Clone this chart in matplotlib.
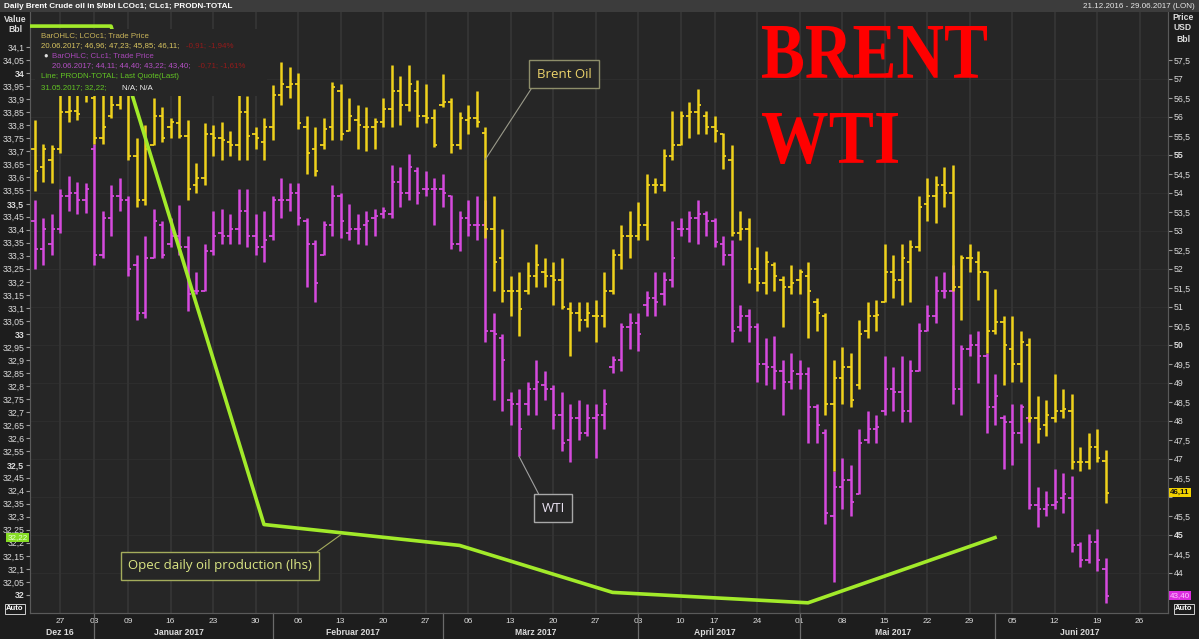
import numpy as np
import pandas as pd
import matplotlib
matplotlib.use("Agg")
import matplotlib.pyplot as plt
from matplotlib.patches import Rectangle, PathPatch
from matplotlib.textpath import TextPath
from matplotlib.font_manager import FontProperties
from matplotlib.transforms import Affine2D

# trading calendar used by the chart (bars are evenly spaced per trading day)
holidays = ["2016-12-26", "2017-01-02", "2017-04-14"]
first_bar = "2016-12-21"

# Brent (LCOc1) daily OHLC, 21.12.2016 .. 20.06.2017
brent_open = [
    55.16, 54.68, 54.87, 55.16, 56.12, 56.16, 56.59, 56.50, 55.45, 56.02,
    56.31, 56.59, 54.97, 53.82, 55.26, 56.02, 55.73, 55.83, 55.49, 54.20,
    54.39, 55.54, 55.45, 55.35, 55.26, 56.12, 55.54, 55.35, 55.73, 56.59,
    56.79, 56.88, 55.73, 55.16, 55.26, 55.73, 56.69, 55.64, 55.92, 55.73,
    55.73, 55.88, 56.21, 56.69, 56.31, 56.69, 56.02, 55.97, 56.31, 56.40,
    55.26, 55.92, 55.97, 55.59, 53.05, 52.29, 51.43, 51.43, 51.43, 51.81,
    51.91, 51.81, 51.71, 50.95, 50.85, 50.66, 50.76, 50.76, 51.43, 52.38,
    52.86, 52.86, 53.15, 54.20, 54.20, 54.97, 55.26, 56.02, 56.12, 56.02,
    55.73, 55.54, 54.87, 52.96, 53.05, 52.00, 51.62, 52.10, 51.71, 51.52,
    51.71, 51.81, 51.14, 50.76, 48.46, 49.13, 49.42, 48.94, 50.37, 50.76,
    51.14, 51.91, 51.71, 52.19, 52.58, 53.72, 53.91, 54.20, 54.01, 51.52,
    52.29, 52.19, 51.91, 50.37, 50.61, 49.90, 49.51, 49.99, 48.08, 47.89,
    48.08, 48.27, 48.27, 46.93, 46.93, 47.31, 46.96]
brent_high = [
    55.92, 55.30, 55.26, 56.69, 56.64, 56.64, 56.69, 56.69, 56.69, 56.59,
    56.69, 56.69, 55.45, 55.78, 56.50, 56.26, 55.97, 56.98, 55.92, 54.78,
    55.83, 55.78, 55.88, 55.64, 56.59, 56.55, 55.73, 55.97, 56.83, 57.46,
    57.31, 57.17, 56.02, 55.73, 55.97, 56.93, 56.88, 56.50, 56.31, 56.26,
    55.97, 56.50, 57.36, 57.07, 57.36, 56.98, 56.88, 56.21, 57.12, 56.50,
    56.12, 56.31, 56.69, 55.73, 53.91, 53.05, 51.81, 51.91, 52.19, 52.67,
    52.29, 52.19, 52.29, 51.14, 51.14, 51.14, 51.19, 51.91, 52.53, 53.15,
    53.53, 53.77, 54.49, 54.39, 55.16, 56.16, 56.16, 56.40, 56.74, 56.16,
    56.02, 55.59, 55.26, 53.53, 53.34, 52.58, 52.48, 52.19, 51.81, 52.10,
    52.00, 52.19, 51.24, 50.85, 49.61, 49.94, 49.80, 50.66, 51.14, 51.19,
    52.67, 52.38, 52.67, 52.77, 53.91, 54.39, 54.44, 54.68, 54.73, 52.38,
    52.67, 52.48, 51.95, 51.48, 50.76, 50.76, 50.37, 50.18, 48.65, 48.56,
    49.23, 48.84, 48.70, 47.31, 47.69, 47.79, 47.23]
brent_low = [
    54.06, 54.30, 54.25, 55.06, 55.88, 55.92, 56.40, 55.30, 55.30, 55.97,
    56.21, 54.87, 53.63, 53.68, 55.26, 55.35, 55.45, 55.45, 53.82, 54.01,
    54.20, 54.97, 54.87, 54.97, 54.87, 54.87, 55.16, 54.87, 55.40, 56.31,
    56.50, 55.69, 54.49, 54.44, 55.16, 55.40, 55.40, 55.64, 55.16, 55.11,
    55.16, 55.73, 55.73, 55.78, 56.16, 55.73, 55.83, 55.21, 56.26, 55.06,
    55.16, 55.54, 55.73, 52.81, 51.43, 51.14, 50.76, 50.23, 51.33, 51.52,
    51.52, 51.04, 50.95, 49.70, 50.37, 50.47, 50.09, 50.47, 51.33, 52.00,
    52.29, 52.77, 52.77, 54.01, 54.06, 54.87, 55.26, 55.45, 55.54, 55.54,
    55.35, 54.63, 52.86, 52.77, 51.62, 51.43, 51.33, 51.43, 50.47, 51.33,
    51.33, 50.18, 50.37, 48.17, 46.69, 48.46, 48.36, 48.84, 50.18, 50.37,
    51.14, 51.24, 51.04, 51.14, 52.48, 53.25, 53.20, 53.63, 51.43, 50.66,
    51.91, 51.19, 49.80, 50.28, 48.94, 49.03, 49.03, 47.98, 47.41, 47.60,
    47.98, 48.08, 46.74, 46.69, 46.74, 46.93, 45.85]
brent_close = [
    54.59, 55.16, 55.16, 56.12, 56.16, 56.07, 56.59, 55.45, 55.73, 56.31,
    56.59, 54.97, 53.82, 55.16, 56.02, 55.45, 55.88, 55.49, 54.11, 54.39,
    55.54, 55.45, 55.40, 55.26, 56.12, 55.49, 55.45, 55.73, 56.59, 56.88,
    56.88, 55.83, 55.06, 54.59, 55.69, 56.79, 55.54, 56.02, 55.78, 55.73,
    55.88, 56.21, 56.69, 56.31, 56.88, 56.02, 55.97, 55.26, 56.40, 55.26,
    55.97, 55.97, 55.88, 53.05, 52.19, 51.43, 51.43, 50.95, 51.81, 52.10,
    51.81, 51.71, 51.00, 50.85, 50.66, 50.85, 50.76, 51.43, 52.38, 52.86,
    52.86, 53.15, 54.20, 54.20, 54.97, 55.26, 56.02, 56.12, 56.31, 55.73,
    55.64, 54.97, 52.96, 53.05, 52.00, 51.62, 52.19, 51.81, 51.52, 51.62,
    51.91, 51.43, 50.85, 48.46, 49.13, 49.42, 48.56, 50.28, 50.76, 50.80,
    51.91, 51.71, 52.29, 52.58, 53.63, 53.91, 54.20, 54.01, 51.52, 52.29,
    52.29, 51.91, 50.37, 50.61, 49.99, 49.51, 50.09, 48.08, 47.79, 48.17,
    48.27, 48.32, 46.93, 46.93, 47.31, 47.03, 46.11]

# WTI (CLc1) daily OHLC, same days
wti_open = [
    53.25, 52.53, 52.67, 53.05, 53.91, 54.01, 53.82, 55.16, 52.38, 53.34,
    53.91, 53.82, 52.10, 50.85, 52.29, 53.15, 52.67, 52.86, 52.58, 51.43,
    51.43, 52.48, 52.96, 52.86, 53.05, 53.53, 52.86, 52.58, 52.86, 53.82,
    53.82, 54.01, 53.25, 52.67, 52.38, 53.15, 53.91, 52.96, 53.05, 53.15,
    53.34, 53.44, 53.44, 54.30, 54.01, 54.59, 54.11, 54.11, 54.11, 53.91,
    52.67, 53.34, 53.15, 53.15, 50.37, 50.18, 48.56, 48.46, 48.46, 48.84,
    48.94, 48.84, 48.17, 47.50, 48.08, 47.69, 48.08, 48.17, 49.42, 49.61,
    50.47, 50.57, 51.04, 51.24, 51.33, 51.71, 53.05, 53.05, 53.34, 53.44,
    53.25, 52.67, 52.38, 50.47, 50.76, 50.47, 49.51, 49.42, 49.32, 49.03,
    49.23, 49.23, 48.36, 47.69, 45.49, 46.26, 46.45, 46.07, 47.50, 47.79,
    48.27, 48.84, 48.75, 48.27, 49.32, 50.37, 50.76, 51.43, 51.43, 48.84,
    49.90, 49.99, 49.70, 48.36, 48.08, 47.98, 47.69, 48.08, 45.78, 45.69,
    45.78, 45.97, 45.97, 44.73, 44.35, 44.82, 44.11]
wti_high = [
    53.82, 53.34, 53.44, 54.11, 54.44, 54.30, 54.25, 55.30, 53.53, 54.20,
    54.39, 53.91, 52.38, 52.86, 53.58, 53.25, 53.34, 53.68, 52.86, 51.91,
    52.67, 53.53, 53.58, 53.44, 54.11, 54.11, 53.44, 53.53, 53.91, 54.39,
    54.25, 54.25, 53.34, 52.77, 53.25, 54.20, 54.01, 53.72, 53.44, 53.53,
    53.58, 53.63, 54.73, 54.68, 55.02, 54.68, 54.59, 54.39, 54.49, 53.95,
    53.53, 53.82, 53.91, 53.82, 50.85, 50.28, 48.75, 48.84, 49.03, 49.61,
    49.32, 48.94, 48.75, 48.46, 48.56, 48.46, 48.46, 48.84, 49.70, 50.57,
    50.85, 50.85, 51.43, 51.91, 51.91, 53.25, 53.34, 53.53, 53.82, 53.53,
    53.34, 52.86, 52.77, 51.04, 50.95, 50.57, 50.18, 50.23, 49.61, 49.80,
    49.61, 49.42, 48.46, 47.79, 46.69, 47.03, 46.83, 47.79, 48.27, 48.17,
    49.70, 49.42, 49.70, 49.61, 50.57, 51.04, 51.81, 51.91, 52.10, 49.99,
    50.28, 50.37, 49.80, 49.23, 48.17, 48.46, 48.46, 48.17, 46.26, 46.16,
    46.74, 46.64, 46.55, 44.82, 45.02, 45.16, 44.40]
wti_low = [
    52.00, 52.10, 52.38, 52.96, 53.53, 53.44, 53.48, 52.10, 52.29, 52.86,
    53.53, 51.81, 50.66, 50.71, 52.29, 52.29, 52.58, 52.38, 50.90, 51.33,
    51.43, 52.38, 52.67, 52.67, 52.67, 52.58, 52.38, 52.19, 52.77, 53.34,
    53.53, 53.15, 51.52, 51.14, 52.38, 52.86, 52.81, 52.77, 52.67, 52.62,
    52.86, 53.34, 53.34, 53.63, 53.82, 53.72, 53.91, 53.15, 53.63, 52.53,
    52.48, 52.86, 52.77, 50.09, 48.56, 48.27, 47.89, 47.07, 48.17, 48.17,
    48.56, 47.79, 47.22, 46.93, 47.50, 47.60, 47.03, 47.79, 49.27, 49.32,
    49.90, 49.85, 50.76, 50.76, 51.04, 51.52, 52.86, 52.72, 52.67, 52.86,
    52.58, 52.10, 50.09, 50.37, 50.09, 49.03, 48.94, 48.84, 48.17, 48.84,
    48.84, 47.41, 47.41, 45.30, 43.77, 45.69, 45.49, 46.07, 47.41, 47.41,
    48.17, 48.27, 47.98, 47.98, 49.32, 50.37, 50.57, 51.24, 48.46, 48.17,
    49.70, 48.99, 47.69, 47.89, 46.74, 46.83, 47.41, 45.69, 45.21, 45.49,
    45.69, 45.59, 44.54, 44.15, 44.25, 44.06, 43.22]
wti_close = [
    52.53, 53.05, 53.05, 53.91, 54.01, 53.82, 54.11, 52.38, 53.34, 53.91,
    53.82, 52.00, 50.85, 52.29, 53.25, 52.38, 52.86, 52.58, 51.33, 51.43,
    52.48, 52.86, 52.86, 53.05, 53.53, 52.86, 52.58, 52.77, 53.82, 53.82,
    54.01, 53.34, 52.67, 51.62, 53.15, 53.91, 53.25, 53.05, 53.05, 53.25,
    53.39, 53.53, 54.30, 54.01, 54.68, 54.01, 54.11, 54.11, 54.01, 52.67,
    53.34, 53.15, 53.15, 50.37, 50.28, 49.61, 48.46, 47.79, 48.84, 49.03,
    48.84, 48.17, 47.41, 48.08, 47.69, 48.08, 48.17, 48.46, 49.61, 50.47,
    50.57, 50.28, 51.24, 51.14, 51.71, 52.29, 53.05, 53.34, 53.44, 53.25,
    52.72, 52.38, 50.37, 50.76, 50.47, 49.51, 49.42, 49.32, 49.03, 49.32,
    49.23, 48.36, 47.89, 45.59, 46.26, 46.45, 45.88, 47.41, 47.79, 47.84,
    48.84, 48.75, 48.27, 49.32, 50.37, 50.76, 51.43, 51.43, 48.84, 49.90,
    49.99, 49.70, 48.36, 48.65, 47.98, 47.69, 48.36, 45.78, 45.69, 45.78,
    45.88, 46.07, 44.73, 44.35, 44.82, 44.35, 43.40]

# OPEC total production (left axis)
opec_dates = ["2016-12-20", "2017-01-05", "2017-01-31", "2017-03-03",
              "2017-03-29", "2017-05-02", "2017-06-01"]
opec_values = [34.18, 34.18, 32.27, 32.19, 32.01, 31.97, 32.22]

month_names = {12: "Dez 16", 1: "Januar 2017", 2: "Februar 2017", 3: "März 2017",
               4: "April 2017", 5: "Mai 2017", 6: "Juni 2017"}

BRENT_C = "#f0d21c"
WTI_C = "#d64ade"
OPEC_C = "#a2ea2a"
TXT = "#dcdcdc"

W, H = 1199, 639
plt.rcParams["font.family"] = ["Liberation Sans", "DejaVu Sans"]


def fmt(v):
    return f"{v:.2f}".rstrip("0").rstrip(".").replace(".", ",")


def fmt2(v):
    return f"{v:.2f}".replace(".", ",")


def fx(x):
    return x / W


def fy(y):
    return 1 - y / H


days = pd.bdate_range("2016-12-20", "2017-06-30")
days = days[~days.isin(pd.to_datetime(holidays))]
xpos = pd.Series(np.arange(len(days)), index=days)
bar_x = xpos[pd.Timestamp(first_bar)] + np.arange(len(brent_close))
opec_x = xpos[pd.to_datetime(opec_dates)].values
XMIN, XMAX = 0.47, 134.35

fig = plt.figure(figsize=(W / 100, H / 100), dpi=100, facecolor="#1d1d1d")
ax = fig.add_axes([fx(30), 26 / H, 1138 / W, 601 / H])
ax.set_facecolor("#262626")
axl = ax.twinx()
ax.yaxis.tick_right()
axl.yaxis.tick_left()

ax.set_xlim(XMIN, XMAX)
ax.set_ylim(42.947, 58.763)
axl.set_ylim(31.931, 34.234)

# weekly date ticks (first trading day of each week)
wk = days.to_series().groupby(days.to_period("W")).first()
wk = wk[(xpos[wk.values].values > XMIN) & (xpos[wk.values].values < XMAX)]
ax.set_xticks(xpos[wk.values].values, [d.strftime("%d") for d in wk])
ax.tick_params(axis="x", length=0, pad=3.5, labelsize=6, labelcolor=TXT)
ax.grid(axis="x", color="#343434", lw=1.4)
ax.set_axisbelow(True)
for v in np.arange(44, 58, 1.0):
    ax.axhline(v, color="#2d2d2d", lw=0.9, zorder=0)

# price axis (right); the label under the last-price marker stays hidden
pt = np.arange(44, 57.51, 0.5)
last_b = brent_close[-1]
ax.set_yticks(pt, ["" if abs(v - last_b) < 0.25 else fmt(v) for v in pt])
for lab, v in zip(ax.get_yticklabels(), pt):
    if v % 5 == 0:
        lab.set_fontweight("bold")
ax.tick_params(axis="y", labelsize=6.3, labelcolor=TXT, color="#9a9a9a",
               length=3, width=0.8, pad=1)

# OPEC axis (left)
lt = np.round(np.arange(32, 34.101, 0.05), 2)
axl.set_yticks(lt, [fmt(v) for v in lt])
for lab, v in zip(axl.get_yticklabels(), lt):
    if abs(v * 2 - round(v * 2)) < 1e-6:
        lab.set_fontweight("bold")
axl.tick_params(axis="y", labelsize=6.3, labelcolor=TXT, color="#9a9a9a",
                length=3, width=0.8, pad=1)

for a in (ax, axl):
    for s in a.spines.values():
        s.set_color("#5a5a5a")
    a.spines["top"].set_visible(False)


def ohlc(a, x, o, h, l, c, color):
    a.vlines(x, l, h, color=color, lw=1.8, zorder=2)
    a.hlines(o, x - 0.38, x, color=color, lw=1.3, zorder=2)
    a.hlines(c, x, x + 0.38, color=color, lw=1.3, zorder=2)


ohlc(ax, bar_x, wti_open, wti_high, wti_low, wti_close, WTI_C)
ohlc(ax, bar_x, brent_open, brent_high, brent_low, brent_close, BRENT_C)

axl.plot(opec_x, opec_values, color=OPEC_C, lw=2.6, zorder=3,
         solid_joinstyle="round")

# month names and separators below the weekly labels
for m, grp in xpos.groupby(xpos.index.month):
    vis = grp[(grp > XMIN) & (grp < XMAX)]
    ax.annotate(month_names[m], (vis.mean(), 0), xycoords=("data", "axes fraction"),
                xytext=(0, -14), textcoords="offset points", ha="center",
                va="center", fontsize=6.2, fontweight="bold", color=TXT,
                annotation_clip=False)
    if m != 12:
        ax.plot([grp.iloc[0]] * 2, [0, -0.045], transform=ax.get_xaxis_transform(),
                color="#6a6a6a", lw=0.9, clip_on=False)

# last value markers on the axes
ax.text(1.002, brent_close[-1], fmt2(brent_close[-1]), transform=ax.get_yaxis_transform(),
        ha="left", va="center", fontsize=5.8, fontweight="bold", color="#111111", zorder=10,
        bbox=dict(boxstyle="square,pad=0.12", fc="#f2d200", ec="none"))
ax.text(1.002, wti_close[-1], fmt2(wti_close[-1]), transform=ax.get_yaxis_transform(),
        ha="left", va="center", fontsize=5.8, color="#ffc8ff", zorder=10,
        bbox=dict(boxstyle="square,pad=0.12", fc="#dc2ee0", ec="none"))
axl.text(-0.002, opec_values[-1], fmt2(opec_values[-1]), transform=axl.get_yaxis_transform(),
         ha="right", va="center", fontsize=5.8, color="#eaffd8", zorder=10,
         bbox=dict(boxstyle="square,pad=0.15", fc="#86dc24", ec="none"))

# annotations
box = dict(boxstyle="square,pad=0.55", fc="#262626")
ax.annotate("Brent Oil", xy=(xpos[pd.Timestamp("2017-03-08")], 54.87),
            xytext=(564, H - 74), textcoords="figure pixels", ha="center", va="center",
            fontsize=9.5, color="#ecd36a", family="Open Sans", zorder=8,
            bbox=dict(box, ec="#8e8e6a"),
            arrowprops=dict(arrowstyle="-", color="#9a9a8a", lw=0.8,
                            shrinkA=0, shrinkB=0, relpos=(0.0, 0.0)))
ax.annotate("WTI", xy=(xpos[pd.Timestamp("2017-03-14")], 47.07),
            xytext=(553, H - 508), textcoords="figure pixels", ha="center", va="center",
            fontsize=9.5, color="#ece4f4", family="Open Sans", zorder=8,
            bbox=dict(box, ec="#a8a8a8"),
            arrowprops=dict(arrowstyle="-", color="#a0a0a0", lw=0.8,
                            shrinkA=0, shrinkB=0, relpos=(0.05, 1.0)))
axl.annotate("Opec daily oil production (lhs)", xy=(xpos[pd.Timestamp("2017-02-13")], 32.23),
             xytext=(220, H - 566), textcoords="figure pixels", ha="center", va="center",
             fontsize=9.5, color="#dbe684", family="Open Sans", zorder=8,
             bbox=dict(box, ec="#a4ac5c"),
             arrowprops=dict(arrowstyle="-", color="#a4ac5c", lw=0.8,
                             shrinkA=0, shrinkB=0, relpos=(0.97, 1.0)))

# legend block (opaque, covers the series underneath)
fig.add_artist(Rectangle((fx(35), fy(96)), 232 / W, 67 / H, fc="#262626", ec="none", zorder=5))
leg = [
    (41, 36, "BarOHLC; LCOc1; Trade Price", "#c9b45a"),
    (41, 46, "20.06.2017; 46,96; 47,23; 45,85; 46,11;", "#d8c460"),
    (52, 56, "BarOHLC; CLc1; Trade Price", "#a848b8"),
    (52, 66, "20.06.2017; 44,11; 44,40; 43,22; 43,40;", "#b450c4"),
    (41, 77, "Line; PRODN-TOTAL; Last Quote(Last)", "#62c424"),
    (41, 88, "31.05.2017; 32,22;", "#62c424"),
]
for x, y, s, c in leg:
    fig.text(fx(x), fy(y), s, fontsize=5.7, color=c, va="center", zorder=6)
fig.text(fx(186), fy(46), "-0,91; -1,94%", fontsize=5.7, color="#b01818", va="center", zorder=6, alpha=0.8)
fig.text(fx(198), fy(66), "-0,71; -1,61%", fontsize=5.7, color="#b01818", va="center", zorder=6, alpha=0.8)
fig.text(fx(122), fy(88), "N/A; N/A", fontsize=5.7, color="#f0f0f0", va="center", zorder=6)
fig.text(fx(46), fy(56), "\u25cf", fontsize=5.5, color="#e0e0e0", va="center", ha="center", zorder=6)

# big red headline, drawn as stretched outlines
fp = FontProperties(family="Liberation Serif", weight="bold")
for word, x0, y_bot, wpx, hpx in [("BRENT", 762, 78, 225, 52), ("WTI", 762, 164, 136, 51)]:
    tp = TextPath((0, 0), word, size=100, prop=fp)
    e = tp.get_extents()
    tr = Affine2D().translate(-e.x0, -e.y0).scale(wpx / e.width, hpx / e.height).translate(x0, H - y_bot)
    fig.add_artist(PathPatch(tp, transform=tr, fc="#ff0000", ec="none", zorder=7))

# header bar
fig.add_artist(Rectangle((0, fy(12)), 1, 12 / H, fc="#3c3c3c", ec="none", zorder=9))
fig.text(fx(4), fy(6), "Daily Brent Crude oil in $/bbl LCOc1; CLc1; PRODN-TOTAL", fontsize=5.9,
         fontweight="bold", color="white", va="center", zorder=10)
fig.text(fx(1195), fy(6), "21.12.2016 - 29.06.2017 (LON)", fontsize=5.8, color="#e8e8e8",
         va="center", ha="right", zorder=10)

# axis captions
for y, s in [(19, "Value"), (30, "Bbl")]:
    fig.text(fx(15), fy(y), s, fontsize=6.2, fontweight="bold", color=TXT, ha="center", va="center")
for y, s in [(17, "Price"), (28, "USD"), (39, "Bbl")]:
    fig.text(fx(1183), fy(y), s, fontsize=6.2, fontweight="bold", color=TXT, ha="center", va="center")
for x in (15, 1184):
    fig.text(fx(x), fy(609), "Auto", fontsize=5.5, fontweight="bold", color="white", ha="center",
             va="center", bbox=dict(boxstyle="square,pad=0.15", fc="#1d1d1d", ec="#d0d0d0", lw=0.7))

fig.savefig("out.png", dpi=100, facecolor=fig.get_facecolor())
